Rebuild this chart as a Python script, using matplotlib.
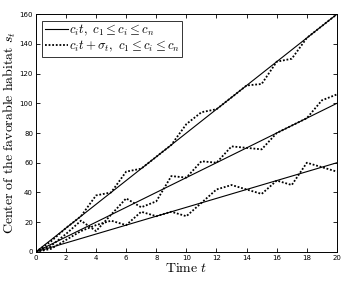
import numpy as np
import matplotlib
matplotlib.use('Agg')
import matplotlib.pyplot as plt

plt.rcParams['mathtext.fontset'] = 'cm'

t = np.arange(0, 21)
speeds = [8, 5, 3]

noisy_fast = [0, 7, 16, 24, 38, 40, 54, 56, 64, 72, 86, 94, 96, 104, 112, 113, 128, 130, 144, 152, 160]
noisy_mid = [0, 4, 12, 21, 14, 25, 36, 30, 34, 51, 50, 61, 60, 71, 70, 69, 80, 85, 90, 102, 106]
noisy_slow = [0, 2, 8, 14, 18, 21, 18, 27, 24, 27, 24, 33, 42, 45, 42, 39, 48, 45, 60, 57, 54]

xticks = [0, 2, 4, 6, 8, 10, 12, 14, 16, 18, 20]
yticks = [0, 20, 40, 60, 80, 100, 120, 140, 160]

fig = plt.figure(figsize=(3.51, 2.83), dpi=100)
ax = fig.add_axes([0.102, 0.11, 0.858, 0.84])

for i, c in enumerate(speeds):
    ax.plot(t, c * t, color='black', linewidth=0.8,
            label=r'$c_i t,\ c_1 \leq c_i \leq c_n$' if i == 0 else None)

for i, s in enumerate([noisy_fast, noisy_mid, noisy_slow]):
    ax.plot(t, s, color='black', linestyle=(0, (1, 1)), linewidth=1.3,
            label=r'$c_i t+\sigma_t,\ c_1 \leq c_i \leq c_n$' if i == 0 else None)

ax.set_xlim(0, 20)
ax.set_ylim(0, 160)
ax.set_xticks(xticks)
ax.set_yticks(yticks)
ax.tick_params(direction='in', top=True, right=True, labelsize=5, length=3, width=0.6, pad=2)
for sp in ax.spines.values():
    sp.set_linewidth(0.7)

ax.set_xlabel(r'$\mathrm{Time}\ t$', fontsize=10, labelpad=0)
ax.set_ylabel(r'$\mathrm{Center\ of\ the\ favorable\ habitat}\ s_t$', fontsize=10, labelpad=1)

leg = ax.legend(loc='upper left', fontsize=9.2, frameon=True, fancybox=False,
                edgecolor='black', handlelength=1.85, handletextpad=0.05,
                borderpad=0.2, labelspacing=0.05, borderaxespad=0.5)
leg.get_frame().set_linewidth(0.7)

fig.savefig('out.png', dpi=100)
